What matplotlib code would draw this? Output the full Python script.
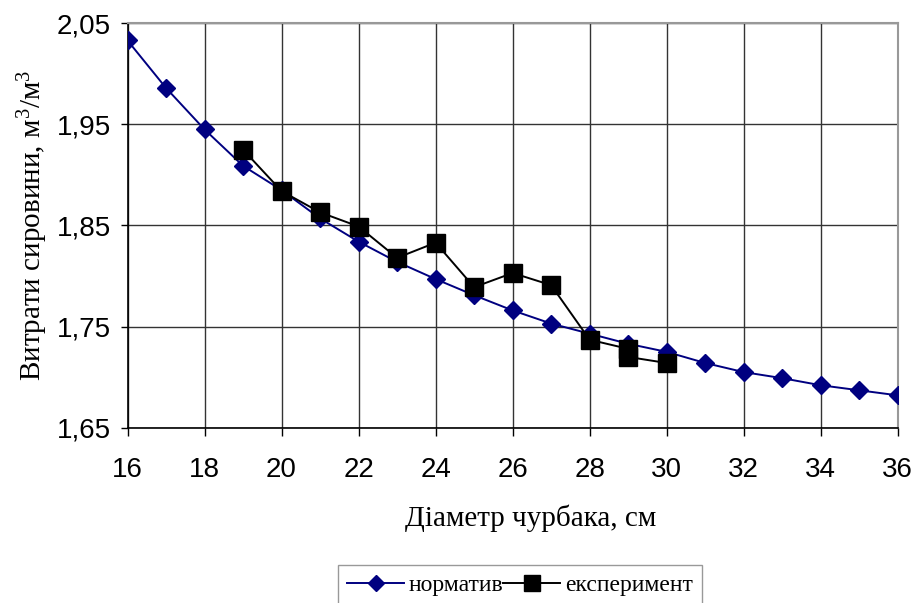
import numpy as np
import matplotlib
matplotlib.use("Agg")
import matplotlib.pyplot as plt
from matplotlib.ticker import FuncFormatter, FixedLocator, MultipleLocator

# ── data ────────────────────────────────────────────────────────────
norm_x = list(range(16, 37))
norm_y = [2.033, 1.986, 1.945, 1.909, 1.885, 1.857, 1.834, 1.814, 1.797, 1.781,
          1.766, 1.753, 1.743, 1.733, 1.725, 1.714, 1.705, 1.699, 1.692, 1.687,
          1.682]

exp_x = [19, 20, 21, 22, 23, 24, 25, 26, 27, 28, 29, 29, 30]
exp_y = [1.925, 1.884, 1.863, 1.849, 1.818, 1.833, 1.789, 1.803, 1.791, 1.737,
         1.728, 1.720, 1.714]

y_ticks = [1.65, 1.75, 1.85, 1.95, 2.05]

SERIF = "Liberation Serif"
SANS = "Liberation Sans"
plt.rcParams.update({
    "mathtext.fontset": "custom",
    "mathtext.rm": SERIF,
    "mathtext.it": SERIF,
})

fig = plt.figure(figsize=(9.2, 6.03), dpi=100)
ax = fig.add_axes([0.1386, 0.2907, 0.8372, 0.6707])

ax.plot(norm_x, norm_y, color="#000080", lw=1.4, marker="D", ms=9.5,
        label="норматив", zorder=3)
ax.plot(exp_x, exp_y, color="black", lw=1.4, marker="s", ms=13,
        label="експеримент", zorder=4)

ax.set_xlim(16, 36)
ax.set_ylim(1.65, 2.05)
ax.xaxis.set_major_locator(MultipleLocator(2))
ax.yaxis.set_major_locator(FixedLocator(y_ticks))
ax.yaxis.set_major_formatter(FuncFormatter(lambda v, p: f"{v:.2f}".replace(".", ",")))

ax.grid(True, color="#333333", lw=1.0)
ax.set_axisbelow(True)
for s in ["top", "right"]:
    ax.spines[s].set_color("#999999")
    ax.spines[s].set_linewidth(1.5)
for s in ["left", "bottom"]:
    ax.spines[s].set_color("black")
    ax.spines[s].set_linewidth(1.2)

ax.tick_params(axis="x", direction="out", length=6, width=1, labelsize=20, pad=15)
ax.tick_params(axis="y", direction="out", length=5, width=1, labelsize=20, pad=7)
for lab in ax.get_xticklabels() + ax.get_yticklabels():
    lab.set_fontfamily(SANS)

ax.set_xlabel("Діаметр чурбака, см", fontfamily=SERIF, fontsize=21)
ax.xaxis.set_label_coords(0.523, -0.19)
ax.xaxis.label.set_va("top")
ax.set_ylabel("Витрати сировини, м$^3$/м$^3$", fontfamily=SERIF, fontsize=21,
              labelpad=5)

leg = fig.legend(loc="upper left", bbox_to_anchor=(338 / 920, 1 - 565 / 603),
                 ncol=2, frameon=True, fancybox=False, edgecolor="#808080",
                 prop={"family": SERIF, "size": 17}, handlelength=2.4,
                 columnspacing=0.0, handletextpad=0.2, borderpad=0.4,
                 borderaxespad=0.0, markerscale=0.85)
leg.get_frame().set_linewidth(1.0)

fig.savefig("out.png", dpi=100, facecolor="white")
